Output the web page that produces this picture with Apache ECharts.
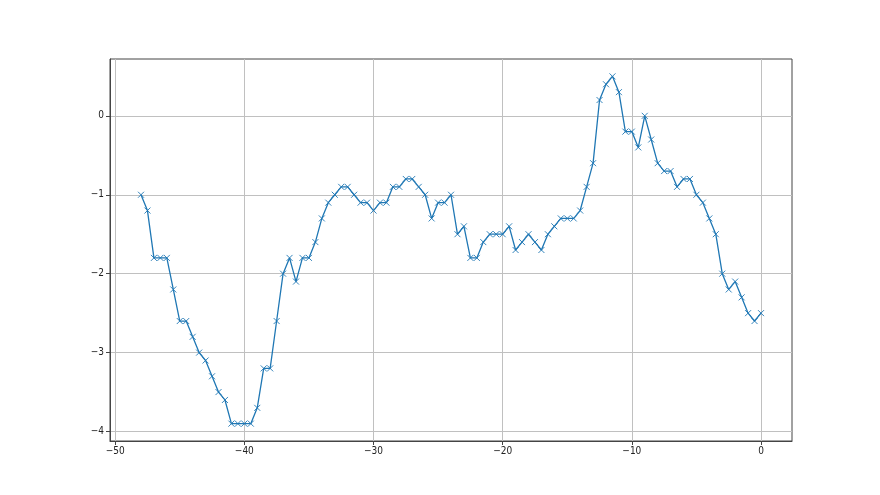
<!DOCTYPE html>
<html>
<head>
<meta charset="utf-8">
<script src="https://cdn.jsdelivr.net/npm/echarts@6/dist/echarts.min.js"></script>
<style>
html,body{margin:0;padding:0;background:#fff;}
#chart{width:880px;height:495px;}
</style>
</head>
<body>
<div id="chart"></div>
<script>
// x positions (step 0.5 from -48 to 0)
var xValues = [
  -48, -47.5, -47, -46.5, -46, -45.5, -45, -44.5, -44, -43.5,
  -43, -42.5, -42, -41.5, -41, -40.5, -40, -39.5, -39, -38.5,
  -38, -37.5, -37, -36.5, -36, -35.5, -35, -34.5, -34, -33.5,
  -33, -32.5, -32, -31.5, -31, -30.5, -30, -29.5, -29, -28.5,
  -28, -27.5, -27, -26.5, -26, -25.5, -25, -24.5, -24, -23.5,
  -23, -22.5, -22, -21.5, -21, -20.5, -20, -19.5, -19, -18.5,
  -18, -17.5, -17, -16.5, -16, -15.5, -15, -14.5, -14, -13.5,
  -13, -12.5, -12, -11.5, -11, -10.5, -10, -9.5, -9, -8.5,
  -8, -7.5, -7, -6.5, -6, -5.5, -5, -4.5, -4, -3.5,
  -3, -2.5, -2, -1.5, -1, -0.5, 0
];
var yValues = [
  -1.0, -1.2, -1.8, -1.8, -1.8, -2.2, -2.6, -2.6, -2.8, -3.0,
  -3.1, -3.3, -3.5, -3.6, -3.9, -3.9, -3.9, -3.9, -3.7, -3.2,
  -3.2, -2.6, -2.0, -1.8, -2.1, -1.8, -1.8, -1.6, -1.3, -1.1,
  -1.0, -0.9, -0.9, -1.0, -1.1, -1.1, -1.2, -1.1, -1.1, -0.9,
  -0.9, -0.8, -0.8, -0.9, -1.0, -1.3, -1.1, -1.1, -1.0, -1.5,
  -1.4, -1.8, -1.8, -1.6, -1.5, -1.5, -1.5, -1.4, -1.7, -1.6,
  -1.5, -1.6, -1.7, -1.5, -1.4, -1.3, -1.3, -1.3, -1.2, -0.9,
  -0.6, 0.2, 0.4, 0.5, 0.3, -0.2, -0.2, -0.4, 0.0, -0.3,
  -0.6, -0.7, -0.7, -0.9, -0.8, -0.8, -1.0, -1.1, -1.3, -1.5,
  -2.0, -2.2, -2.1, -2.3, -2.5, -2.6, -2.5
];
var xTicks = [-50, -40, -30, -20, -10, 0];
var yTicks = [-4, -3, -2, -1, 0];

var xMin = -50.4, xMax = 2.4;
var yMin = -4.12, yMax = 0.72;

var data = xValues.map(function (x, i) { return [x, yValues[i]]; });
var fmt = function (v) { return String(v).replace('-', '\u2212'); };
var labelFont = {
  fontFamily: '"Liberation Sans Narrow", "DejaVu Sans Condensed", "DejaVu Sans", sans-serif',
  fontSize: 10,
  color: '#222'
};

var chart = echarts.init(document.getElementById('chart'), null, {renderer: 'canvas'});
chart.setOption({
  animation: false,
  backgroundColor: '#ffffff',
  grid: {
    left: 110, right: 88, top: 59, bottom: 54,
    show: true, borderColor: '#444', borderWidth: 1, backgroundColor: 'transparent'
  },
  xAxis: {
    type: 'value', min: xMin, max: xMax,
    axisLine: {show: true, onZero: false, lineStyle: {color: '#444', width: 1}},
    axisTick: {show: true, inside: false, length: 4, customValues: xTicks, lineStyle: {color: '#444', width: 1}},
    axisLabel: Object.assign({customValues: xTicks, margin: 5, formatter: fmt}, labelFont),
    splitLine: {show: true, lineStyle: {color: '#c0c0c0', width: 1}}
  },
  yAxis: {
    type: 'value', min: yMin, max: yMax,
    axisLine: {show: true, onZero: false, lineStyle: {color: '#444', width: 1}},
    axisTick: {show: true, inside: false, length: 4, customValues: yTicks, lineStyle: {color: '#444', width: 1}},
    axisLabel: Object.assign({customValues: yTicks, margin: 6, formatter: fmt}, labelFont),
    splitLine: {show: true, lineStyle: {color: '#c0c0c0', width: 1}}
  },
  series: [{
    type: 'line',
    data: data,
    symbol: 'path://M0,0L10,10M10,0L0,10',
    symbolSize: 6,
    showAllSymbol: true,
    lineStyle: {color: '#1f77b4', width: 1.3},
    itemStyle: {color: '#1f77b4', borderColor: '#1f77b4', borderWidth: 0.9}
  }]
});
</script>
</body>
</html>
